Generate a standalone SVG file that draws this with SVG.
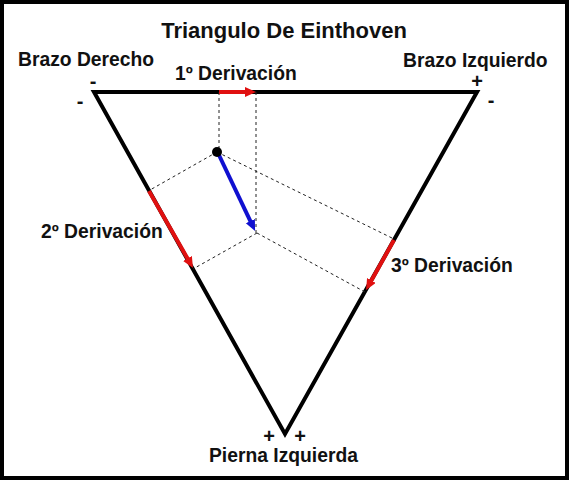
<svg xmlns="http://www.w3.org/2000/svg" width="569" height="480" viewBox="0 0 569 480">
<defs>
<style>
.t{font-family:"Liberation Sans",Arial,sans-serif;font-weight:bold;fill:#111;}
.lbl{font-size:19.3px;}
.sign{font-size:20px;text-anchor:middle;}
.dash{stroke:#222;stroke-width:1;stroke-dasharray:3,3;fill:none;}
.red{stroke:#e01010;stroke-width:4;fill:none;}
.blue{stroke:#1010d0;stroke-width:4;fill:none;}
</style>
<marker id="ar" markerUnits="userSpaceOnUse" markerWidth="12" markerHeight="11" refX="5" refY="5" orient="auto">
<path d="M0,0 L11,5 L0,10 z" fill="#e01010"/>
</marker>
<marker id="ab" markerUnits="userSpaceOnUse" markerWidth="12" markerHeight="11" refX="5" refY="5" orient="auto">
<path d="M0,0 L11,5 L0,10 z" fill="#1010d0"/>
</marker>
</defs>
<rect x="0" y="0" width="569" height="480" fill="#fff"/>
<rect x="2" y="2" width="565" height="476" fill="none" stroke="#000" stroke-width="4"/>
<text class="t" x="284" y="38" font-size="22" text-anchor="middle">Triangulo De Einthoven</text>
<g id="triangle">
<polygon points="94,92 477,92 285,434" fill="none" stroke="#000" stroke-width="4" stroke-linejoin="miter" stroke-miterlimit="10"/>
</g>
<g id="connectors">
<line class="dash" x1="219" y1="92" x2="219" y2="152"/>
<line class="dash" x1="256" y1="92" x2="256" y2="233"/>
<line class="dash" x1="217" y1="152" x2="150" y2="190"/>
<line class="dash" x1="217" y1="152" x2="394" y2="239"/>
<line class="dash" x1="257" y1="233" x2="193" y2="269"/>
<line class="dash" x1="257" y1="233" x2="365" y2="292"/>
<line class="red" x1="219" y1="92" x2="250" y2="92" marker-end="url(#ar)"/>
<line class="red" x1="149" y1="191" x2="190" y2="262.8" marker-end="url(#ar)"/>
<line class="red" x1="394" y1="240" x2="369" y2="284.8" marker-end="url(#ar)"/>
<line class="blue" x1="218" y1="153" x2="252.5" y2="225.6" marker-end="url(#ab)"/>
</g>
<g id="vector-origin">
<circle cx="217" cy="152" r="5" fill="#000"/>
</g>
<g id="brazo-derecho">
<text class="t lbl" x="18" y="66">Brazo Derecho</text>
<text class="t sign" x="93" y="88">-</text>
<text class="t sign" x="80" y="108">-</text>
</g>
<g id="brazo-izquierdo">
<text class="t lbl" x="403" y="67">Brazo Izquierdo</text>
<text class="t sign" x="477" y="88">+</text>
<text class="t sign" x="491" y="107">-</text>
</g>
<g id="pierna-izquierda">
<text class="t lbl" x="209" y="462">Pierna Izquierda</text>
<text class="t sign" x="269" y="443">+</text>
<text class="t sign" x="300" y="443">+</text>
</g>
<g id="derivacion-1">
<text class="t lbl" x="175" y="80">1º Derivación</text>
</g>
<g id="derivacion-2">
<text class="t lbl" x="41" y="238">2º Derivación</text>
</g>
<g id="derivacion-3">
<text class="t lbl" x="391" y="272">3º Derivación</text>
</g>
</svg>
